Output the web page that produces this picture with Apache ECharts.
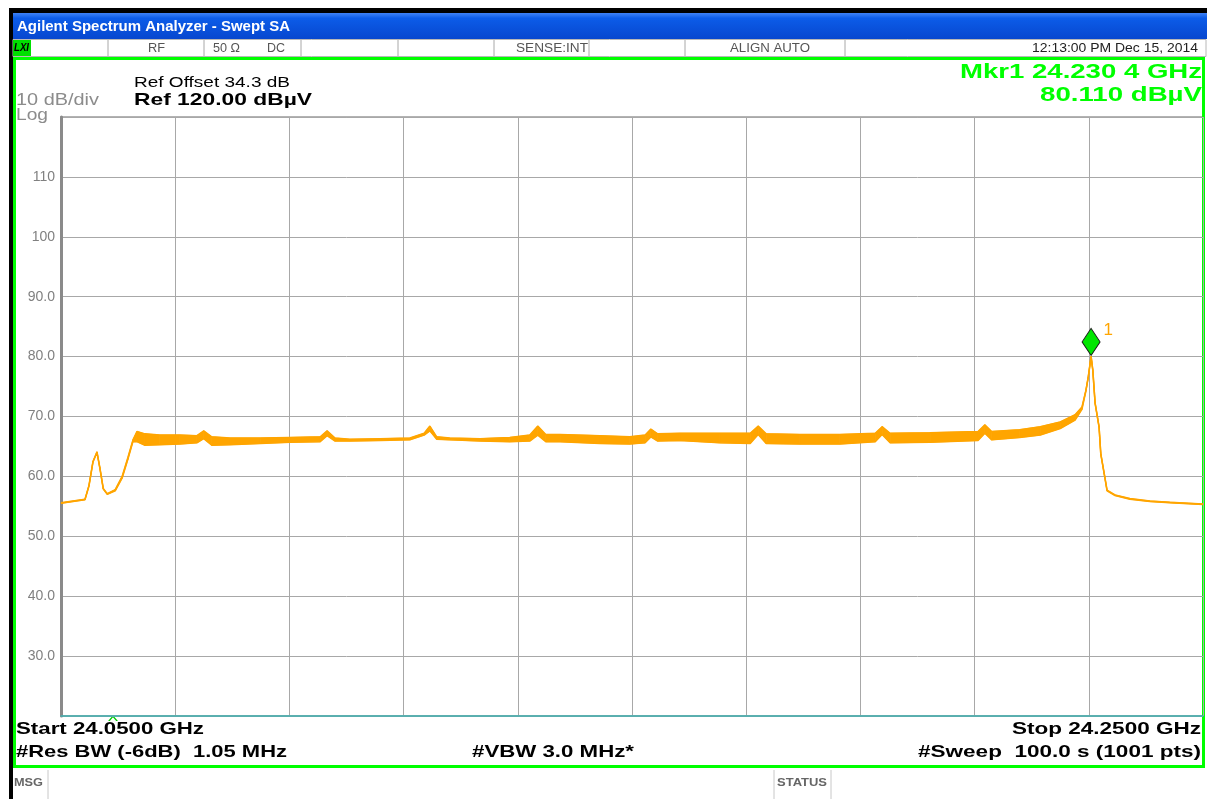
<!DOCTYPE html>
<html>
<head>
<meta charset="utf-8">
<script src="https://cdn.jsdelivr.net/npm/echarts@6/dist/echarts.min.js"></script>
<style>
  html, body { margin: 0; padding: 0; background: #fff; }
  #chart { width: 1207px; height: 799px; }
</style>
</head>
<body>
<div id="chart"></div>
<script>
// sweep 24.05 .. 24.25 GHz, trace read as upper / lower envelope (dBuV)
var startGHz = 24.05;
var stopGHz = 24.25;
var freqGHz = [
  24.0500, 24.0542, 24.0549, 24.0556, 24.0563, 24.0568, 24.0574, 24.0581, 24.0595, 24.0607,
  24.0617, 24.0626, 24.0633, 24.0647, 24.0673, 24.0708, 24.0738, 24.0750, 24.0764, 24.0796,
  24.0849, 24.0901, 24.0954, 24.0966, 24.0980, 24.1006, 24.1059, 24.1111, 24.1136, 24.1146,
  24.1158, 24.1181, 24.1234, 24.1286, 24.1321, 24.1335, 24.1349, 24.1374, 24.1444, 24.1496,
  24.1523, 24.1533, 24.1545, 24.1584, 24.1654, 24.1707, 24.1721, 24.1735, 24.1794, 24.1864,
  24.1926, 24.1938, 24.1952, 24.2022, 24.2106, 24.2118, 24.2130, 24.2179, 24.2215, 24.2250,
  24.2276, 24.2288, 24.2295, 24.2299, 24.2304, 24.2307, 24.2311, 24.2318, 24.2321, 24.2327,
  24.2332, 24.2346, 24.2372, 24.2407, 24.2442, 24.2500
];
var traceUpper = [
  55.6, 56.2, 58.5, 62.5, 64.1, 61.5, 58.0, 57.1, 57.8, 60.0,
  63.1, 66.1, 67.5, 67.1, 66.9, 66.9, 66.8, 67.6, 66.6, 66.4,
  66.4, 66.5, 66.6, 67.6, 66.4, 66.2, 66.3, 66.4, 67.2, 68.4,
  66.6, 66.4, 66.3, 66.5, 66.9, 68.4, 67.0, 67.0, 66.8, 66.6,
  66.9, 67.9, 67.1, 67.2, 67.2, 67.2, 68.4, 67.1, 67.0, 67.0,
  67.2, 68.3, 67.2, 67.3, 67.5, 68.6, 67.5, 67.8, 68.3, 69.1,
  70.3, 71.6, 74.4, 76.6, 80.1, 77.8, 72.3, 68.3, 63.8, 60.5,
  57.7, 56.9, 56.3, 55.9, 55.7, 55.4
];
var traceLower = [
  55.5, 56.1, 58.4, 62.4, 64.0, 61.4, 57.9, 57.0, 57.6, 59.7,
  62.8, 65.8, 65.8, 65.2, 65.3, 65.4, 65.6, 66.3, 65.2, 65.3,
  65.5, 65.7, 65.8, 66.8, 65.9, 65.9, 66.0, 66.1, 66.9, 67.6,
  66.2, 66.1, 65.9, 65.8, 65.9, 66.9, 65.8, 65.8, 65.5, 65.4,
  65.6, 66.6, 65.9, 66.0, 65.6, 65.5, 67.0, 65.5, 65.4, 65.4,
  65.8, 67.0, 65.6, 65.7, 66.0, 67.2, 66.1, 66.5, 66.9, 68.0,
  69.4, 71.2, 74.3, 76.5, 80.0, 77.7, 72.2, 68.2, 63.7, 60.4,
  57.6, 56.8, 56.2, 55.8, 55.6, 55.3
];
var yTicks = [30, 40, 50, 60, 70, 80, 90, 100, 110];
var markerGHz = 24.2304;
var markerDb = 80.11;

var statusFields = ['RF', '50 Ω', 'DC', 'SENSE:INT', 'ALIGN AUTO'];

var chart = echarts.init(document.getElementById('chart'));

// x plotted as MHz from start so the axis min is a multiple of the interval
function toX(f) { return Math.round((f - startGHz) * 10000) / 10; }
var spanMHz = toX(stopGHz);

var lowerPts = [], upperPts = [], segs = [];
for (var i = 0; i < freqGHz.length; i++) {
  lowerPts.push([toX(freqGHz[i]), traceLower[i]]);
  upperPts.push([toX(freqGHz[i]), traceUpper[i]]);
  if (i < freqGHz.length - 1) {
    segs.push([toX(freqGHz[i]), traceUpper[i], traceLower[i],
               toX(freqGHz[i + 1]), traceUpper[i + 1], traceLower[i + 1]]);
  }
}

var font = 'Liberation Sans, Arial, sans-serif';
var orange = '#ffa500';
var green = '#00ff00';

// the analyser's screen font is a wide Arial, so stretch text to its measured width
var measureCtx = document.createElement('canvas').getContext('2d');
function txt(str, x, y, size, w, opts) {
  opts = opts || {};
  var f = (opts.weight ? opts.weight + ' ' : '') + size + 'px ' + font;
  measureCtx.font = f;
  var s = w ? w / measureCtx.measureText(str).width : 1;
  return { type: 'text', x: x, y: y, scaleX: s, style: {
    text: str, font: f, fill: opts.color || '#000', align: opts.align || 'left', verticalAlign: 'middle' } };
}

var graphics = [
  // black window edge
  { type: 'rect', shape: { x: 9, y: 8, width: 1198, height: 5 }, style: { fill: '#000' } },
  { type: 'rect', shape: { x: 9, y: 8, width: 4, height: 791 }, style: { fill: '#000' } },
  // title bar
  { type: 'rect', shape: { x: 13, y: 13, width: 1194, height: 26 },
    style: { fill: new echarts.graphic.LinearGradient(0, 0, 0, 1, [
      { offset: 0, color: '#3f82f5' }, { offset: 0.2, color: '#0c5ce8' },
      { offset: 1, color: '#0747cf' }]) } },
  txt('Agilent Spectrum Analyzer - Swept SA', 17, 27, 14, 273, { color: '#fff', weight: 'bold' }),
  // status row
  { type: 'rect', shape: { x: 13, y: 39.5, width: 1193, height: 17 }, style: { fill: '#fff', stroke: '#b8b8b8', lineWidth: 1 } },
  { type: 'rect', shape: { x: 13, y: 40, width: 18, height: 16 }, style: { fill: '#00e000' } },
  txt('LXI', 14, 48, 11, 15, { weight: 'italic bold' }),
  txt(statusFields[0], 148, 48, 13, 17, { color: '#555' }),
  txt(statusFields[1], 213, 48, 13, 27, { color: '#555' }),
  txt(statusFields[2], 267, 48, 13, 18, { color: '#555' }),
  txt(statusFields[3], 516, 48, 13, 72, { color: '#555' }),
  txt(statusFields[4], 730, 48, 13, 80, { color: '#555' }),
  txt('12:13:00 PM Dec 15, 2014', 1198, 48, 13, 166, { color: '#222', align: 'right' }),
  // green frame
  { type: 'rect', shape: { x: 14.5, y: 58.5, width: 1189, height: 708 }, style: { fill: 'none', stroke: green, lineWidth: 3 } },
  // header text
  txt('Ref Offset 34.3 dB', 134, 82.5, 15, 156),
  txt('Ref 120.00 dBµV', 134, 100.5, 17, 178, { weight: 'bold' }),
  txt('10 dB/div', 16, 100.5, 17, 83, { color: '#8c8c8c' }),
  txt('Log', 16, 115, 17, 32, { color: '#8c8c8c' }),
  txt('Mkr1 24.230 4 GHz', 1202, 72, 20, 242, { color: green, weight: 'bold', align: 'right' }),
  txt('80.110 dBµV', 1202, 95, 21, 162, { color: green, weight: 'bold', align: 'right' }),
  // footer text
  txt('^', 108, 722, 12, 10, { color: '#00cc00' }),
  txt('Start 24.0500 GHz', 16, 729, 17, 188, { weight: 'bold' }),
  txt('#Res BW (-6dB)  1.05 MHz', 16, 752, 17, 271, { weight: 'bold' }),
  txt('#VBW 3.0 MHz*', 472, 752, 17, 162, { weight: 'bold' }),
  txt('Stop 24.2500 GHz', 1201, 729, 17, 189, { weight: 'bold', align: 'right' }),
  txt('#Sweep  100.0 s (1001 pts)', 1201, 752, 17, 283, { weight: 'bold', align: 'right' }),
  // message row
  { type: 'line', shape: { x1: 48, y1: 770, x2: 48, y2: 799 }, style: { stroke: '#c8c8c8', lineWidth: 1 } },
  { type: 'line', shape: { x1: 774, y1: 770, x2: 774, y2: 799 }, style: { stroke: '#c8c8c8', lineWidth: 1 } },
  { type: 'line', shape: { x1: 831, y1: 770, x2: 831, y2: 799 }, style: { stroke: '#c8c8c8', lineWidth: 1 } },
  txt('MSG', 14, 783, 11, 29, { color: '#666', weight: 'bold' }),
  txt('STATUS', 777, 783, 11, 50, { color: '#666', weight: 'bold' })
];
// status row separators
[108, 204, 301, 398, 494, 589, 685, 845].forEach(function (sx) {
  graphics.push({ type: 'line', shape: { x1: sx, y1: 40, x2: sx, y2: 56 }, style: { stroke: '#a8a8a8', lineWidth: 1 } });
});

var option = {
  animation: false,
  backgroundColor: '#fff',
  grid: { left: 61, top: 117, width: 1142, height: 599, show: true,
    borderColor: '#9a9a9a', borderWidth: 1.5, backgroundColor: 'transparent' },
  xAxis: {
    type: 'value', min: 0, max: spanMHz, interval: 20,
    axisLabel: { show: false }, axisTick: { show: false },
    axisLine: { show: true, lineStyle: { color: '#3fb0b0', width: 1.5 } },
    splitLine: { show: true, lineStyle: { color: '#a8a8a8', width: 1 } }
  },
  yAxis: {
    type: 'value', min: 20, max: 120, interval: 10,
    axisTick: { show: false },
    axisLine: { show: true, lineStyle: { color: '#8a8a8a', width: 3 } },
    splitLine: { show: true, lineStyle: { color: '#a8a8a8', width: 1 } },
    axisLabel: {
      color: '#808080', fontSize: 14, fontFamily: font, margin: 6,
      formatter: function (v) {
        if (yTicks.indexOf(v) < 0) return '';
        return v >= 100 ? String(v) : v.toFixed(1);
      }
    }
  },
  series: [
    {
      // filled envelope between upper and lower trace
      name: 'band', type: 'custom', data: segs, silent: true,
      renderItem: function (params, api) {
        var a = api.coord([api.value(0), api.value(1)]);
        var b = api.coord([api.value(3), api.value(4)]);
        var c = api.coord([api.value(3), api.value(5)]);
        var d = api.coord([api.value(0), api.value(2)]);
        return { type: 'polygon', shape: { points: [a, b, c, d] },
          style: { fill: orange, stroke: orange, lineWidth: 0.8 } };
      }
    },
    { name: 'lower', type: 'line', data: lowerPts, symbol: 'none',
      lineStyle: { color: orange, width: 1.5 } },
    { name: 'upper', type: 'line', data: upperPts, symbol: 'none',
      lineStyle: { color: orange, width: 1.5 },
      markPoint: {
        data: [{ coord: [toX(markerGHz), markerDb] }],
        symbol: 'diamond', symbolSize: [18, 27], symbolOffset: [0, -14],
        itemStyle: { color: '#00e600', borderColor: '#1a1a1a', borderWidth: 1 },
        label: { show: true, formatter: '1', color: orange, fontSize: 17,
          fontFamily: font, position: 'right', offset: [-2, -12] }
      } }
  ],
  graphic: graphics
};
chart.setOption(option);
</script>
</body>
</html>
